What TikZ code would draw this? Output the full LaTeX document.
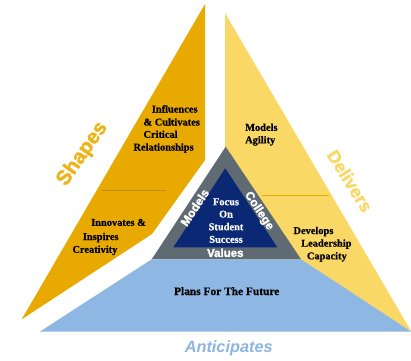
\documentclass[tikz,border=0pt]{standalone}
\usepackage{fontspec}
\setmainfont{Liberation Serif}
\setsansfont{Liberation Sans}
\newfontfamily\heavysans[FakeBold=1.6]{Liberation Sans Bold}
\newfontfamily\heavyserif[FakeBold=0.6]{Liberation Serif Bold}
\definecolor{goldA}{RGB}{232,170,0}
\definecolor{goldLine}{RGB}{196,140,10}
\definecolor{yellowA}{RGB}{250,216,102}
\definecolor{blueA}{RGB}{142,184,227}
\definecolor{greyA}{RGB}{95,106,114}
\definecolor{navyA}{RGB}{10,40,115}
\definecolor{shapesC}{RGB}{237,180,26}
\definecolor{deliversC}{RGB}{249,216,104}
\definecolor{anticC}{RGB}{141,180,226}
\tikzset{
  lbl/.style={inner sep=0pt, anchor=base west, font=\heavyserif\fontsize{10.4}{12}\selectfont, text=black},
  inlbl/.style={inner sep=0pt, anchor=base, font=\heavyserif\fontsize{10.4}{12}\selectfont, text=white},
  sidelbl/.style={inner sep=0pt, font=\heavysans\fontsize{12}{14}\selectfont, text=white},
  biglbl/.style={inner sep=0pt}
}
\begin{document}
\begin{tikzpicture}[x=1pt,y=-1pt]
\useasboundingbox (0,0) rectangle (411,360);
% shapes
\fill[goldA] (205,4) -- (205,160) -- (152,234) -- (21.7,319.3) -- cycle;
\fill[yellowA] (225,13) -- (411,331) -- (225,331) -- cycle;
\fill[greyA] (225.7,146.7) -- (301,259.3) -- (151.7,259.3) -- cycle;
\fill[navyA] (225.3,168.3) -- (277.3,247.3) -- (173.3,247.3) -- cycle;
\fill[blueA] (151.7,259.3) -- (301,259.3) -- (411,331.5) -- (40,331.5) -- cycle;
% dividers
\coordinate (dl1) at (101,190); \coordinate (dl2) at (166,190);
\coordinate (dr1) at (262,195); \coordinate (dr2) at (329,195);
\draw[goldLine, line width=1pt] (dl1) -- (dl2);
\draw[goldA, line width=1pt] (dr1) -- (dr2);
% left texts
\node[lbl] (t1) at (151.7,112.5) {Influences};
\node[lbl] (t2) at (143.3,125.5) {\& Cultivates};
\node[lbl] (t3) at (143.3,137.8) {Critical};
\node[lbl] (t4) at (133.3,150.5) {Relationships};
\node[lbl] (t5) at (91,225.8) {Innovates \&};
\node[lbl] (t6) at (82.7,240) {Inspires};
\node[lbl] (t7) at (72.3,252.8) {Creativity};
% right texts
\node[lbl] (r1) at (245,130.8) {Models};
\node[lbl] (r2) at (245,143.3) {Agility};
\node[lbl] (r3) at (293.3,234) {Develops};
\node[lbl] (r4) at (301,246.6) {Leadership};
\node[lbl] (r5) at (306.7,259.3) {Capacity};
% bottom
\node[inner sep=0pt, anchor=base, font=\heavyserif\fontsize{11.4}{13}\selectfont] (plans) at (226.7,295) {Plans For The Future};
% inner
\node[inlbl] (i1) at (226,205.2) {Focus};
\node[inlbl] (i2) at (226,217.5) {On};
\node[inlbl] (i3) at (226,230.2) {Student};
\node[inlbl] (i4) at (226,242.8) {Success};
\node[sidelbl, font=\heavysans\fontsize{11.5}{13}\selectfont] (values) at (225.3,252.8) {Values};
\node[sidelbl, rotate=56.7] (models) at (194.7,207.5) {Models};
\node[sidelbl, rotate=-56.7] (college) at (259,211) {College};
% big labels
\node[biglbl, text=shapesC, rotate=55, font=\heavysans\fontsize{20.5}{22}\selectfont] (shapes) at (82.5,154) {Shapes};
\node[biglbl, text=deliversC, rotate=-58, font=\heavysans\fontsize{17.8}{20}\selectfont] (delivers) at (350,181) {Delivers};
\node[biglbl, text=anticC, font=\sffamily\bfseries\itshape\fontsize{16.3}{18}\selectfont] (antic) at (228.7,348.3) {Anticipates};
\end{tikzpicture}
\end{document}
